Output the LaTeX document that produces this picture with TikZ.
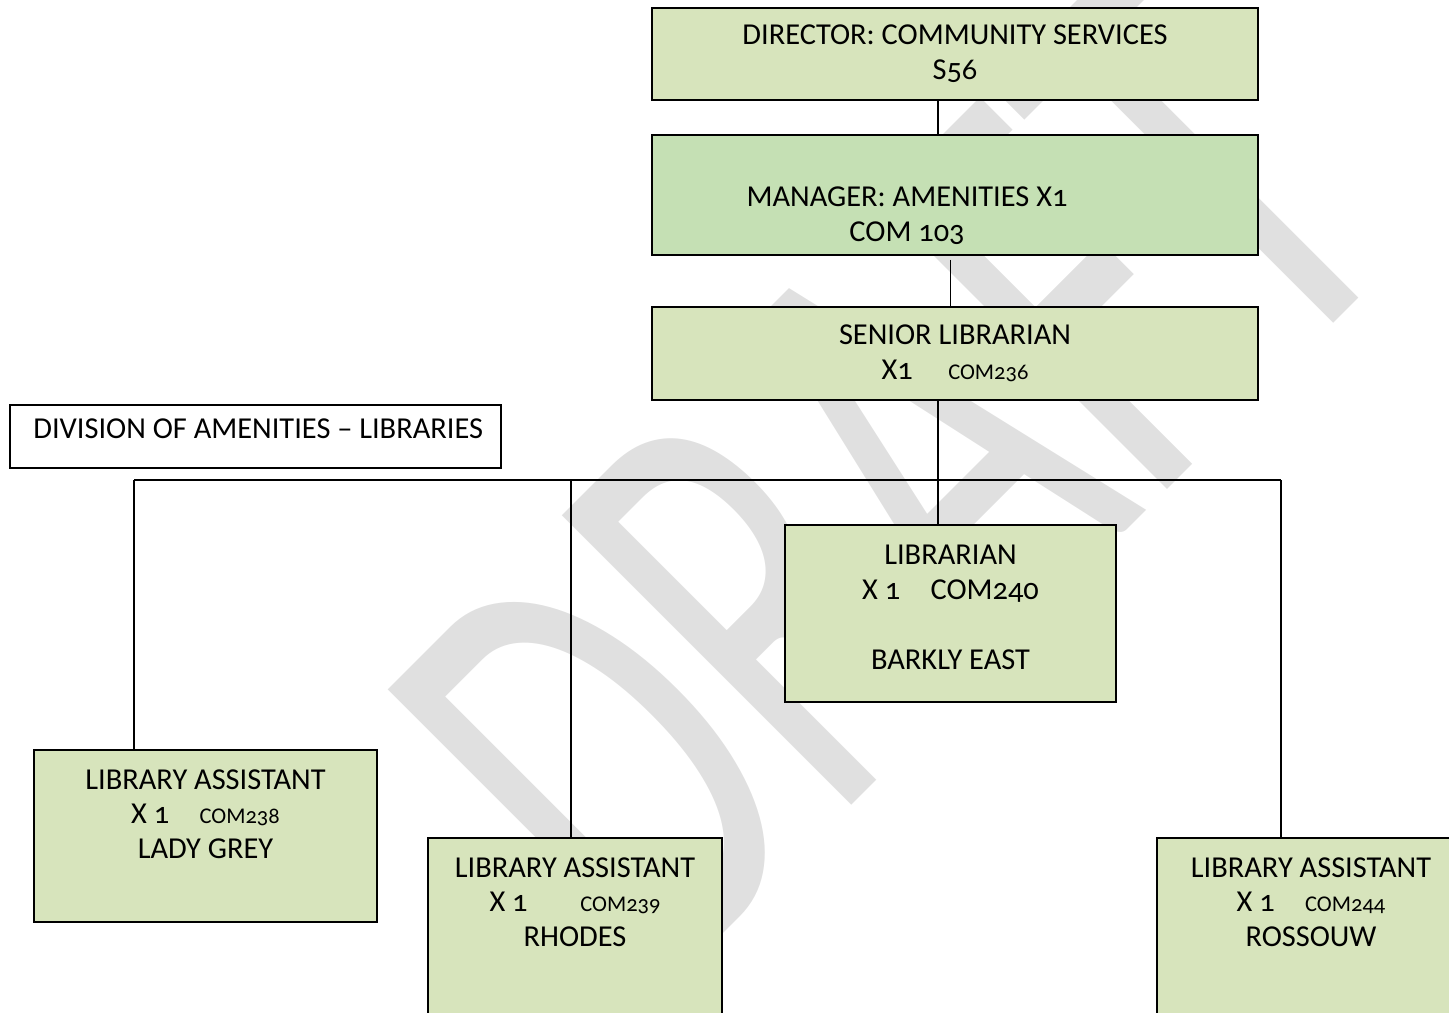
\documentclass[tikz,border=0pt]{standalone}
\usepackage{fontspec}
\setmainfont{Carlito}[Numbers=OldStyle]
\usepackage{graphicx}
\usetikzlibrary{positioning,calc}
\definecolor{postgreen}{RGB}{215,228,188}
\definecolor{mgrgreen}{RGB}{197,224,180}
\definecolor{draftgray}{RGB}{224,224,224}
\tikzset{
  post/.style={draw=black, line width=1.1pt, fill=postgreen, inner sep=0pt, align=center},
  link/.style={draw=black, line width=0.7pt},
  txt/.style={align=center, inner sep=0pt}
}
\newcommand{\comcode}[1]{{\fontsize{12.8}{14}\selectfont #1}}

\begin{document}
\begin{tikzpicture}[x=0.02cm, y=-0.02cm, font=\fontsize{17.3}{19.8}\selectfont]
    \clip (0,0) rectangle (1449,1012);
    \node[rotate=45, anchor=base west, inner sep=0pt, text=draftgray, font=\fontsize{227}{227}\selectfont] (draft) at (658,999) {\scalebox{1}[1.6]{DRAFT}};

    \node[post, minimum width=12.12cm, minimum height=1.84cm] (dir) at (955,54) {DIRECTOR: COMMUNITY SERVICES\\S56};
    \node[post, fill=mgrgreen, minimum width=12.12cm, minimum height=2.4cm] (mgr) at (955,195) {};
    \node[txt] (mgrtext) at (907,216) {MANAGER: AMENITIES X1\\COM 103};
    \node[post, minimum width=12.12cm, minimum height=1.86cm] (sen) at (955,353.5) {SENIOR LIBRARIAN\\X1\quad\,\comcode{COM236}};
    \node[draw=black, line width=1.1pt, minimum width=9.82cm, minimum height=1.26cm] (div) at (255.5,436.5) {};
    \node[txt, anchor=west] (divtext) at (33,429) {DIVISION OF AMENITIES -- LIBRARIES};

    \node[post, minimum width=6.62cm, minimum height=3.54cm] (lib) at (950.5,613.5) {};
    \node[txt, below=0.42cm of lib.north] (libtext) {LIBRARIAN\\X 1\quad COM240\\[19.8pt]BARKLY EAST};
    \node[post, minimum width=6.86cm, minimum height=3.44cm] (grey) at (205.5,836) {};
    \node[txt, below=0.4cm of grey.north] (greytext) {LIBRARY ASSISTANT\\X 1\quad\comcode{COM238}\\LADY GREY};
    \node[post, minimum width=5.88cm, minimum height=4.4cm, anchor=north] (rhodes) at (575,837) {};
    \node[txt, below=0.4cm of rhodes.north] (rhodestext) {LIBRARY ASSISTANT\\X 1\hspace{30pt}\comcode{COM239}\\RHODES};
    \node[post, minimum width=6.16cm, minimum height=4.4cm, anchor=north] (ross) at (1311,837) {};
    \node[txt, below=0.4cm of ross.north] (rosstext) {LIBRARY ASSISTANT\\X 1\quad\comcode{COM244}\\ROSSOUW};

    \coordinate (trunk) at (938,480);
    \coordinate (busL) at (134,480);
    \coordinate (busM) at (571,480);
    \coordinate (busR) at (1281,480);

    \draw[link] (dir.south -| trunk) -- (mgr.north -| trunk);
    \draw[link] ($(mgr.south -| lib.north)+(0,4)$) -- (sen.north -| lib.north);
    \draw[link] (sen.south -| trunk) -- (lib.north -| trunk);
    \draw[link] (busL) -- (busR);
    \draw[link] (busL) -- (grey.north -| busL);
    \draw[link] (busM) -- (rhodes.north -| busM);
    \draw[link] (busR) -- (ross.north -| busR);
\end{tikzpicture}
\end{document}
